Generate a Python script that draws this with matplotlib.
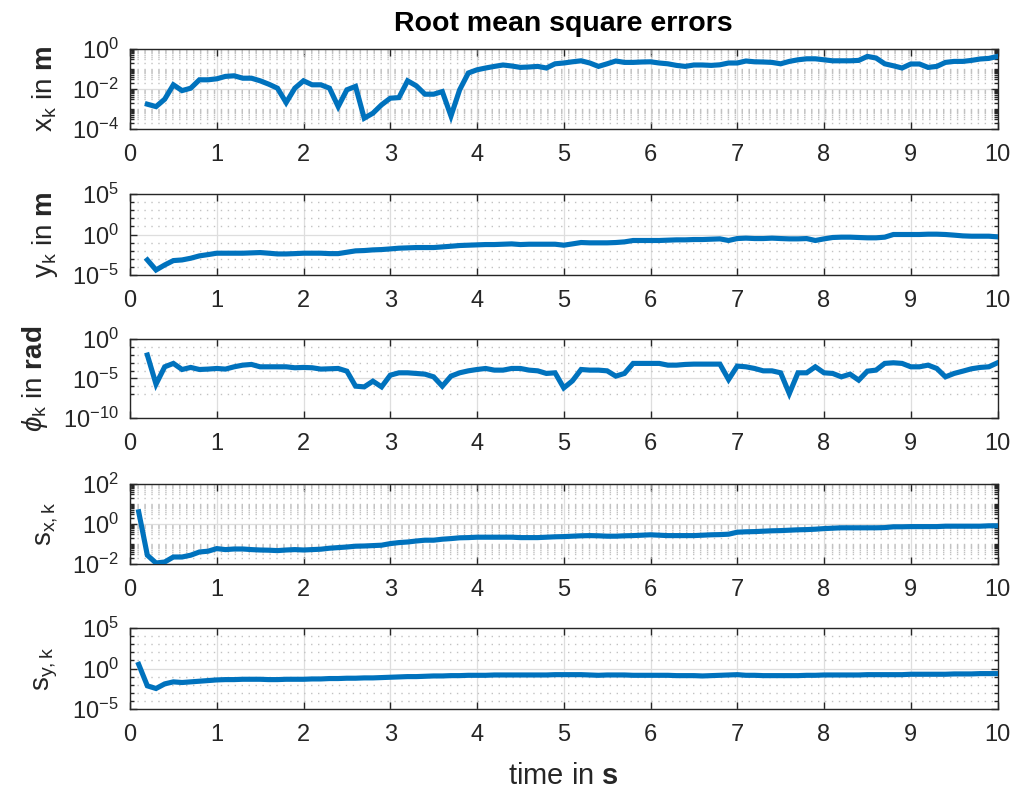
import numpy as np
import matplotlib
matplotlib.use("Agg")
import matplotlib.pyplot as plt
from matplotlib.ticker import LogFormatterMathtext, NullFormatter

plt.rcParams["font.family"] = ["Liberation Sans", "DejaVu Sans"]
plt.rcParams["mathtext.fontset"] = "custom"
plt.rcParams["mathtext.rm"] = "Liberation Sans"
plt.rcParams["mathtext.it"] = "Liberation Sans:italic"
plt.rcParams["mathtext.bf"] = "Liberation Sans:bold"

# sample times
t_state = np.round(np.linspace(0.2, 10.0, 99), 1)
t_scale = np.round(np.linspace(0.1, 10.0, 100), 1)

# RMSE values, stored as decimal exponents (value = 10**exponent)
x_rmse_exp = [
    -2.76, -2.88, -2.51, -1.79, -2.08, -1.96, -1.54, -1.54, -1.49, -1.37,
    -1.34, -1.46, -1.46, -1.59, -1.76, -1.96, -2.68, -1.96, -1.59, -1.79,
    -1.79, -1.96, -2.88, -2.04, -1.87, -3.46, -3.21, -2.79, -2.46, -2.43,
    -1.59, -1.84, -2.26, -2.26, -2.13, -3.35, -2.04, -1.20, -1.04, -0.95,
    -0.87, -0.80, -0.85, -0.92, -0.90, -0.87, -0.95, -0.74, -0.70, -0.64,
    -0.59, -0.70, -0.87, -0.74, -0.60, -0.67, -0.67, -0.65, -0.64, -0.70,
    -0.74, -0.82, -0.87, -0.80, -0.80, -0.82, -0.79, -0.70, -0.70, -0.60,
    -0.64, -0.65, -0.67, -0.74, -0.62, -0.54, -0.49, -0.49, -0.54, -0.59,
    -0.59, -0.59, -0.57, -0.37, -0.45, -0.74, -0.84, -0.95, -0.75, -0.75,
    -0.92, -0.87, -0.67, -0.62, -0.62, -0.57, -0.50, -0.47, -0.37,
]
y_rmse_exp = [
    -3.14, -4.38, -3.76, -3.22, -3.14, -2.93, -2.64, -2.48, -2.31, -2.31,
    -2.31, -2.31, -2.27, -2.23, -2.31, -2.40, -2.40, -2.36, -2.31, -2.31,
    -2.31, -2.36, -2.36, -2.19, -2.02, -1.98, -1.90, -1.86, -1.78, -1.69,
    -1.65, -1.61, -1.61, -1.61, -1.53, -1.45, -1.36, -1.32, -1.28, -1.24,
    -1.24, -1.20, -1.16, -1.24, -1.20, -1.20, -1.20, -1.20, -1.32, -1.16,
    -0.99, -1.03, -1.03, -1.03, -0.99, -0.91, -0.74, -0.74, -0.74, -0.74,
    -0.70, -0.66, -0.66, -0.62, -0.62, -0.58, -0.54, -0.74, -0.50, -0.45,
    -0.50, -0.50, -0.45, -0.50, -0.54, -0.54, -0.50, -0.74, -0.54, -0.37,
    -0.33, -0.33, -0.37, -0.41, -0.41, -0.33, 0.00, 0.00, 0.00, 0.00,
    0.04, 0.04, 0.00, -0.08, -0.17, -0.21, -0.21, -0.21, -0.29,
]
phi_rmse_exp = [
    -2.03, -5.72, -3.52, -3.09, -3.86, -3.60, -3.86, -3.81, -3.73, -3.81,
    -3.52, -3.31, -3.22, -3.52, -3.52, -3.52, -3.52, -3.64, -3.60, -3.64,
    -3.81, -3.77, -3.73, -4.07, -5.97, -6.06, -5.34, -6.06, -4.58, -4.28,
    -4.28, -4.36, -4.45, -4.79, -5.97, -4.70, -4.28, -4.03, -3.86, -3.73,
    -3.94, -3.94, -3.73, -3.73, -3.94, -4.03, -4.36, -4.28, -6.19, -5.30,
    -3.86, -3.94, -3.94, -4.03, -4.70, -4.36, -3.09, -3.09, -3.09, -3.09,
    -3.31, -3.31, -3.22, -3.18, -3.18, -3.18, -3.18, -5.13, -3.43, -3.52,
    -3.73, -4.03, -4.03, -4.28, -6.91, -4.28, -4.28, -3.52, -4.28, -4.36,
    -4.79, -4.45, -5.21, -4.07, -3.94, -3.09, -3.01, -3.09, -3.52, -3.52,
    -3.31, -3.73, -4.79, -4.36, -4.07, -3.77, -3.60, -3.52, -3.01,
]
sx_rmse_exp = [
    0.61, -1.56, -1.95, -1.90, -1.65, -1.65, -1.56, -1.40, -1.36, -1.23,
    -1.28, -1.25, -1.25, -1.28, -1.30, -1.31, -1.33, -1.30, -1.28, -1.30,
    -1.28, -1.26, -1.21, -1.18, -1.15, -1.11, -1.10, -1.08, -1.06, -0.98,
    -0.93, -0.90, -0.85, -0.81, -0.81, -0.76, -0.73, -0.69, -0.68, -0.66,
    -0.66, -0.66, -0.66, -0.66, -0.68, -0.68, -0.68, -0.66, -0.64, -0.63,
    -0.61, -0.59, -0.58, -0.59, -0.61, -0.61, -0.59, -0.58, -0.56, -0.54,
    -0.56, -0.58, -0.58, -0.58, -0.58, -0.56, -0.54, -0.53, -0.51, -0.41,
    -0.39, -0.38, -0.36, -0.34, -0.33, -0.31, -0.29, -0.28, -0.26, -0.23,
    -0.21, -0.19, -0.19, -0.19, -0.19, -0.19, -0.18, -0.14, -0.14, -0.13,
    -0.13, -0.13, -0.13, -0.11, -0.11, -0.11, -0.11, -0.11, -0.09, -0.09,
]
sy_rmse_exp = [
    0.51, -2.14, -2.47, -1.90, -1.65, -1.73, -1.65, -1.57, -1.49, -1.41,
    -1.37, -1.37, -1.33, -1.33, -1.33, -1.37, -1.37, -1.33, -1.33, -1.33,
    -1.29, -1.29, -1.24, -1.24, -1.20, -1.20, -1.16, -1.16, -1.12, -1.08,
    -1.04, -1.00, -1.00, -0.96, -0.92, -0.92, -0.88, -0.88, -0.84, -0.84,
    -0.84, -0.80, -0.80, -0.80, -0.80, -0.80, -0.80, -0.80, -0.76, -0.76,
    -0.76, -0.76, -0.80, -0.84, -0.80, -0.80, -0.80, -0.84, -0.84, -0.84,
    -0.84, -0.84, -0.88, -0.88, -0.88, -0.92, -0.88, -0.84, -0.80, -0.76,
    -0.84, -0.84, -0.88, -0.88, -0.88, -0.88, -0.88, -0.84, -0.84, -0.80,
    -0.80, -0.80, -0.80, -0.80, -0.76, -0.76, -0.76, -0.76, -0.76, -0.71,
    -0.71, -0.71, -0.71, -0.71, -0.67, -0.67, -0.67, -0.63, -0.63, -0.63,
]

ylabels = [
    r"$\mathrm{x_k}$ in $\mathbf{m}$",
    r"$\mathrm{y_k}$ in $\mathbf{m}$",
    r"$\phi_\mathrm{k}$ in $\mathbf{rad}$",
    r"$\mathrm{s_{x,k}}$",
    r"$\mathrm{s_{y,k}}$",
]
# (low exponent, high exponent, labelled exponents)
ylims = [(-4, 0, [-4, -2, 0]), (-5, 5, [-5, 0, 5]), (-10, 0, [-10, -5, 0]),
         (-2, 2, [-2, 0, 2]), (-5, 5, [-5, 0, 5])]
series = [(t_state, x_rmse_exp), (t_state, y_rmse_exp), (t_state, phi_rmse_exp),
          (t_scale, sx_rmse_exp), (t_scale, sy_rmse_exp)]

# axes boxes in pixels from the top: (top, bottom)
boxes = [(49, 129), (194, 275), (339, 418), (484, 564), (628, 709)]
W, H = 1014, 791
left, right = 130, 997.5

AX_COLOR = "#262626"
LINE_COLOR = "#0072BD"

fig = plt.figure(figsize=(W / 100, H / 100), dpi=100)
axes = []
for (top, bot), (lo, hi, majors), (tt, vals), lab in zip(boxes, ylims, series, ylabels):
    ax = fig.add_axes([left / W, 1 - bot / H, (right - left) / W, (bot - top) / H])
    ax.set_yscale("log")
    ax.plot(tt, 10.0 ** np.asarray(vals), color=LINE_COLOR, lw=3.7,
            solid_joinstyle="miter", zorder=3)
    ax.set_xlim(0, 10)
    ax.set_ylim(10.0 ** lo, 10.0 ** hi)
    ax.set_xticks(range(0, 11))
    ax.set_yticks([10.0 ** e for e in majors])
    if hi - lo <= 4:
        minors = [m * 10.0 ** e for e in range(lo, hi) for m in range(1, 10)]
    else:
        minors = [10.0 ** e for e in range(lo, hi + 1)]
    minors = [v for v in minors if not any(np.isclose(v, 10.0 ** e) for e in majors)]
    ax.set_yticks(minors, minor=True)
    ax.yaxis.set_major_formatter(LogFormatterMathtext())
    ax.yaxis.set_minor_formatter(NullFormatter())
    ax.grid(True, which="major", color="#dedede", lw=0.9, ls="-", zorder=0)
    ax.grid(True, which="minor", axis="y", color="#c2c2c2", lw=1.0, ls=(0, (1, 4)), zorder=0)
    ax.tick_params(which="both", direction="in", top=True, right=True,
                   color=AX_COLOR, labelcolor=AX_COLOR, width=1.0)
    ax.tick_params(which="major", length=5, labelsize=17)
    ax.tick_params(axis="x", which="major", pad=11)
    ax.tick_params(axis="y", which="major", pad=8)
    ax.tick_params(which="minor", length=3)
    for s in ax.spines.values():
        s.set_color(AX_COLOR)
        s.set_linewidth(1.0)
    ax.set_ylabel(lab, fontsize=20, color=AX_COLOR, labelpad=9)
    axes.append(ax)

axes[0].set_title("Root mean square errors", fontsize=20.5, fontweight="bold", pad=13)
axes[-1].set_xlabel(r"time in $\mathbf{s}$", fontsize=21, color=AX_COLOR, labelpad=11)

fig.savefig("out.png", dpi=100)
